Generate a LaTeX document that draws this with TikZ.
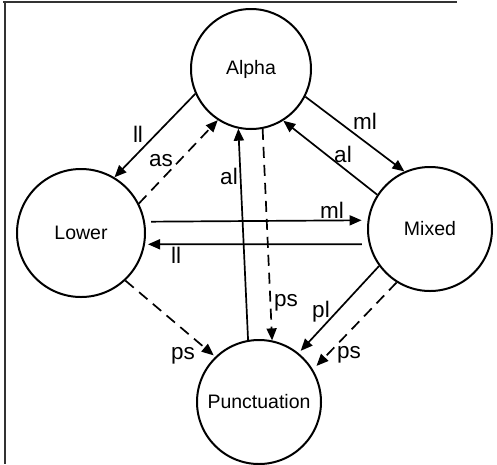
\documentclass[tikz,border=0pt]{standalone}
\usepackage{fontspec}
\setmainfont{Liberation Sans}
\usetikzlibrary{arrows.meta}
\begin{document}
\begin{tikzpicture}[x=1pt,y=-1pt,
  state/.style={draw,circle,line width=2pt,inner sep=0pt,font=\fontsize{19.5}{21}\selectfont},
  conn/.style={line width=1.7pt,-{Triangle[length=12pt,width=10pt]}},
  dconn/.style={conn,dash pattern=on 11pt off 7pt},
  lbl/.style={font=\fontsize{22.5}{24}\selectfont,inner sep=0pt}]
\useasboundingbox (0,0) rectangle (497,464);
\draw[line width=1.2pt,black!80] (3,2) coordinate (f1) -- (457,2) coordinate (f2);
\draw[line width=1.2pt,black!80] (5,2) coordinate (f3) -- (5,464) coordinate (f4);

\node[state,minimum size=120pt] (A) at (251,69) {Alpha};
\node[state,minimum size=128pt] (L) at (81,233) {Lower};
\node[state,minimum size=124pt] (M) at (430,229) {Mixed};
\node[state,minimum size=124pt] (P) at (259,402) {Punctuation};

% Alpha <-> Lower
\draw[conn] (A.204.6) -- (L.59.7);
\draw[dconn] (L.27.8) -- (A.237.3);
% Alpha <-> Mixed
\draw[conn] (A.333.8) -- (M.114.8);
\draw[conn] (M.147.7) -- (A.302.5);
% Alpha <-> Punctuation
\draw[conn] (P.100.9) -- (A.258.5);
\draw[dconn] (A.281.1) -- (P.78.2);
% Lower <-> Mixed
\draw[conn,shorten <=6pt,shorten >=6pt] (L.10.8) -- (M.172.6);
\draw[conn,shorten <=7pt,shorten >=3pt] (M.194) -- (L.350.1);
% to Punctuation
\draw[dconn,shorten >=2pt] (L.313.1) -- (P.134);
\draw[conn,shorten >=3pt] (M.216.3) -- (P.51.7);
\draw[dconn,shorten >=5pt] (M.238.1) -- (P.31.1);

% labels
\node[lbl] (t1) at (138,134) {ll};
\node[lbl] (t2) at (161,161) {as};
\node[lbl] (t3) at (229,176) {al};
\node[lbl] (t4) at (365,121) {ml};
\node[lbl] (t5) at (343,154) {al};
\node[lbl] (t6) at (332,210) {ml};
\node[lbl] (t7) at (176,255) {ll};
\node[lbl] (t8) at (286,303) {ps};
\node[lbl] (t9) at (321,312) {pl};
\node[lbl] (t10) at (349,355) {ps};
\node[lbl] (t11) at (183,356) {ps};
\end{tikzpicture}
\end{document}
